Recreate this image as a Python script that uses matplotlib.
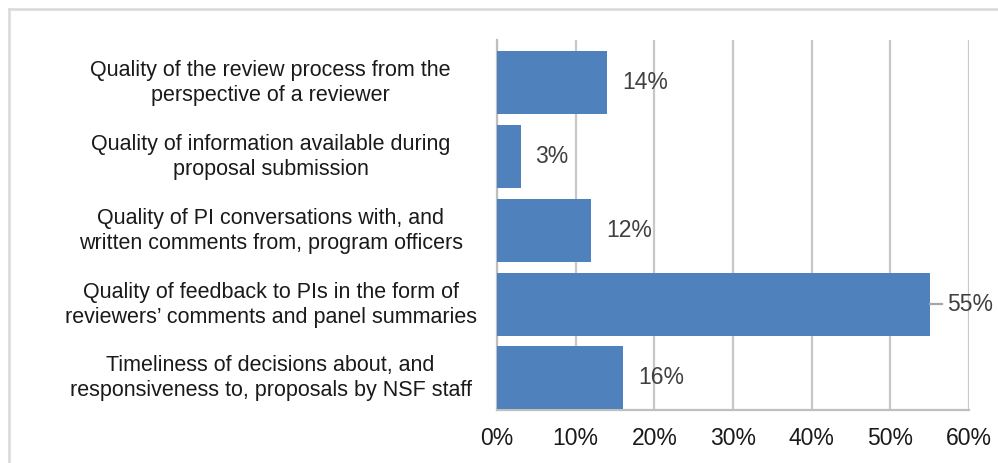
import matplotlib
matplotlib.use('Agg')
import matplotlib.pyplot as plt
from matplotlib.lines import Line2D
from matplotlib.transforms import ScaledTranslation

plt.rcParams['font.family'] = ['Liberation Sans', 'DejaVu Sans']

categories = [
    'Quality of the review process from the\nperspective of a reviewer',
    'Quality of information available during\nproposal submission',
    'Quality of PI conversations with, and\nwritten comments from, program officers',
    'Quality of feedback to PIs in the form of\nreviewers\u2019 comments and panel summaries',
    'Timeliness of decisions about, and\nresponsiveness to, proposals by NSF staff',
]
values = [14, 3, 12, 55, 16]
xticks = [0, 10, 20, 30, 40, 50, 60]

W, H = 998, 463
fig = plt.figure(figsize=(W / 100, H / 100), dpi=100)
ax = fig.add_axes([497 / W, 1 - 410 / H, (969 - 497) / W, (410 - 40) / H])

ypos = list(range(len(values)))[::-1]
ax.barh(ypos, values, height=0.854, color='#4f81bd', zorder=3)
ax.set_ylim(-0.434, len(values) - 0.424)
ax.set_xlim(0, 60)
ax.set_xticks(xticks)
ax.set_xticklabels(['%d%%' % t for t in xticks], fontsize=16.5, color='#1a1a1a')
ax.set_yticks(ypos)
ax.set_yticklabels(categories, fontsize=15.5, color='#1a1a1a', ha='center',
                   linespacing=1.25)
ax.tick_params(axis='y', length=0, pad=163)
ax.tick_params(axis='x', length=0, pad=12)
shift = ScaledTranslation(0, 4 / 100, fig.dpi_scale_trans)
for lab in ax.get_yticklabels():
    lab.set_transform(lab.get_transform() + shift)
ax.grid(axis='x', color='#c8c8c8', linewidth=1.6, zorder=0)
for s in ['top', 'right']:
    ax.spines[s].set_visible(False)
for s in ['left', 'bottom']:
    ax.spines[s].set_color('#bfbfbf')
    ax.spines[s].set_linewidth(1.6)

for y, v in zip(ypos, values):
    if v > 50:
        ax.plot([v, v + 1.6], [y, y], color='#a6a6a6', linewidth=1.6, zorder=4,
                clip_on=False)
        ax.text(v + 2.2, y, '%d%%' % v, va='center', ha='left', fontsize=16.5,
                color='#404040', clip_on=False)
    else:
        ax.text(v + 1.9, y, '%d%%' % v, va='center', ha='left', fontsize=16.5,
                color='#404040', zorder=5)

# light frame of the chart area (top and left edges visible)
fig.add_artist(Line2D([9 / W, 1], [1 - 9 / H, 1 - 9 / H], color='#d9d9d9', linewidth=1.8))
fig.add_artist(Line2D([9 / W, 9 / W], [0, 1 - 9 / H], color='#d9d9d9', linewidth=1.8))

fig.savefig('out.png', dpi=100, facecolor='white')
